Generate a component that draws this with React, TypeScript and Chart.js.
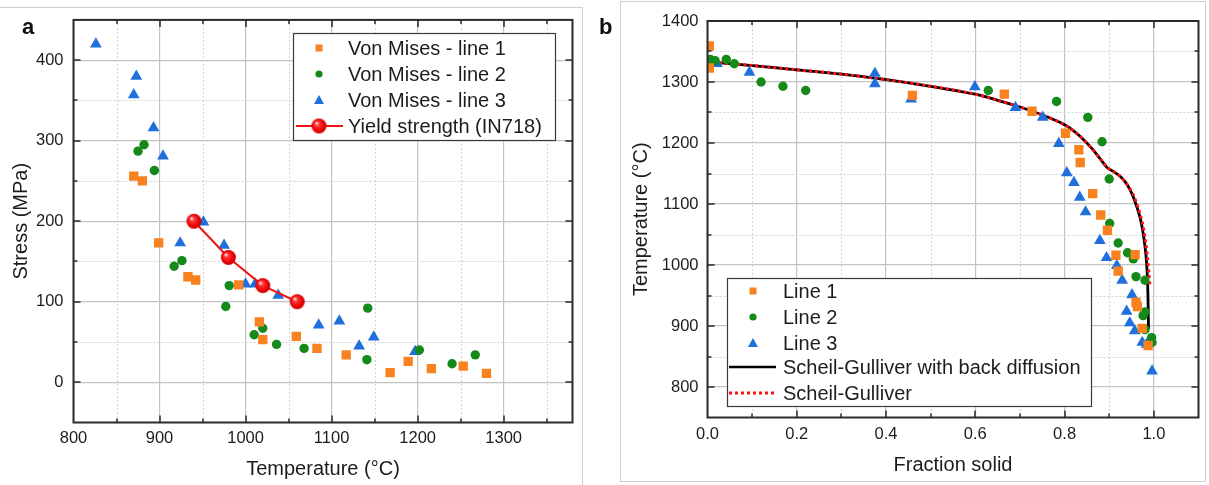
import { useEffect, useRef } from 'react';
import { Chart, registerables } from 'chart.js';

Chart.register(...registerables);

const FONT = '"Liberation Sans", Arial, Helvetica, sans-serif';
Chart.defaults.font.family = FONT;

// ---------- Panel a : stress vs temperature ----------
const aLine1Temp = [870, 880, 899, 933, 942, 992, 1016, 1020, 1059, 1083, 1117, 1168, 1189, 1216, 1253, 1280];
const aLine1Stress = [256, 250, 173, 131, 127, 121, 75, 53, 57, 42, 34, 12, 26, 17, 20, 11];

const aLine2Temp = [875, 882, 894, 917, 926, 977, 981, 1010, 1020, 1036, 1068, 1141, 1142, 1202, 1240, 1267];
const aLine2Stress = [287, 295, 263, 144, 151, 94, 120, 59, 67, 47, 42, 28, 92, 40, 23, 34];

const aLine3Temp = [826, 870, 873, 893, 904, 924, 951, 975, 1000, 1011, 1038, 1085, 1109, 1132, 1149, 1197];
const aLine3Stress = [420, 357, 380, 316, 281, 173, 199, 170, 122, 122, 108, 71, 76, 45, 56, 38];

const yieldTemp = [940, 980, 1020, 1060];
const yieldStress = [200, 155, 120, 100];

// ---------- Panel b : temperature vs fraction solid ----------
const bLine1Frac = [0.004, 0.004, 0.459, 0.665, 0.727, 0.802, 0.832, 0.835, 0.863, 0.881, 0.896, 0.915, 0.92, 0.958, 0.96, 0.963, 0.974, 0.987];
const bLine1Temp = [1359, 1323, 1278, 1280, 1252, 1216, 1189, 1168, 1117, 1082, 1057, 1016, 990, 1017, 939, 932, 896, 868];

const bLine2Frac = [0.006, 0.017, 0.042, 0.06, 0.12, 0.169, 0.22, 0.629, 0.782, 0.852, 0.884, 0.9, 0.901, 0.92, 0.941, 0.954, 0.96, 0.98, 0.98, 0.976, 0.98, 0.995, 0.996];
const bLine2Temp = [1337, 1335, 1337, 1330, 1300, 1293, 1286, 1286, 1268, 1242, 1202, 1141, 1068, 1036, 1020, 1010, 981, 975, 923, 917, 894, 881, 873];

const bLine3Frac = [0.021, 0.094, 0.375, 0.375, 0.456, 0.599, 0.69, 0.751, 0.787, 0.805, 0.821, 0.834, 0.847, 0.879, 0.894, 0.917, 0.929, 0.951, 0.939, 0.946, 0.957, 0.974, 0.984, 0.996];
const bLine3Temp = [1330, 1316, 1314, 1297, 1272, 1292, 1258, 1242, 1199, 1151, 1135, 1111, 1087, 1040, 1012, 999, 975, 951, 924, 905, 892, 873, 870, 826];

const scheilBackFrac = [0, 0.1, 0.2, 0.3, 0.4, 0.5, 0.6, 0.65, 0.7, 0.75, 0.8, 0.83, 0.86, 0.88, 0.895, 0.91, 0.925, 0.94, 0.952, 0.962, 0.97, 0.976, 0.981, 0.984, 0.986, 0.987, 0.988];
const scheilBackTemp = [1333, 1327, 1320, 1313, 1304, 1293, 1280, 1270, 1259, 1246, 1230, 1214, 1192, 1174, 1160, 1153, 1145, 1132, 1115, 1095, 1075, 1052, 1025, 1000, 970, 940, 895];

const scheilFrac = [0, 0.1, 0.2, 0.3, 0.4, 0.5, 0.6, 0.65, 0.7, 0.75, 0.8, 0.83, 0.86, 0.88, 0.895, 0.91, 0.925, 0.94, 0.954, 0.965, 0.974, 0.981, 0.986, 0.989, 0.991];
const scheilTemp = [1333, 1327, 1320, 1313, 1304, 1293, 1280, 1270, 1259, 1246, 1230, 1214, 1192, 1174, 1160, 1153, 1145, 1132, 1115, 1093, 1070, 1040, 1010, 985, 966];

const ORANGE = '#f7821f';
const GREEN = '#15891a';
const BLUE = '#1f70dc';
const RED = '#f01414';
const TEXT = '#1c1c1c';

const pts = (xs: number[], ys: number[]) => xs.map((x, i) => ({ x, y: ys[i] }));

function makeBall(r: number) {
  const c = document.createElement('canvas');
  const s = Math.ceil(r * 2 + 2);
  c.width = s;
  c.height = s;
  const g = c.getContext('2d')!;
  const cx = s / 2;
  const grad = g.createRadialGradient(cx - r * 0.35, cx - r * 0.4, r * 0.05, cx, cx, r);
  grad.addColorStop(0, '#ffe4e4');
  grad.addColorStop(0.3, '#ff3030');
  grad.addColorStop(0.8, '#e80000');
  grad.addColorStop(1, '#c00000');
  g.fillStyle = grad;
  g.beginPath();
  g.arc(cx, cx, r, 0, Math.PI * 2);
  g.fill();
  return c;
}

const isMult = (v: number, step: number) => Math.abs(v / step - Math.round(v / step)) < 1e-6;

function steps(min: number, max: number, step: number) {
  const out: number[] = [];
  const start = Math.ceil(min / step - 1e-9);
  const end = Math.floor(max / step + 1e-9);
  for (let i = start; i <= end; i++) out.push(Math.round(i * step * 1e6) / 1e6);
  return out;
}

function drawSymbol(ctx: CanvasRenderingContext2D, it: any, x: number, y: number, lx0: number, lx1: number) {
  ctx.save();
  if (it.type === 'rect') {
    ctx.fillStyle = it.color;
    ctx.fillRect(x - 3.5, y - 3.5, 7, 7);
  } else if (it.type === 'circle') {
    ctx.fillStyle = it.color;
    ctx.beginPath();
    ctx.arc(x, y, 3.6, 0, Math.PI * 2);
    ctx.fill();
  } else if (it.type === 'triangle') {
    ctx.fillStyle = it.color;
    ctx.beginPath();
    ctx.moveTo(x, y - 5);
    ctx.lineTo(x + 5, y + 4);
    ctx.lineTo(x - 5, y + 4);
    ctx.closePath();
    ctx.fill();
  } else if (it.type === 'lineBall') {
    ctx.strokeStyle = it.color;
    ctx.lineWidth = 2;
    ctx.beginPath();
    ctx.moveTo(lx0, y);
    ctx.lineTo(lx1, y);
    ctx.stroke();
    const b = it.ball as HTMLCanvasElement;
    ctx.drawImage(b, x - b.width / 2, y - b.height / 2);
  } else if (it.type === 'line') {
    ctx.strokeStyle = it.color;
    ctx.lineWidth = 2.5;
    ctx.beginPath();
    ctx.moveTo(lx0, y);
    ctx.lineTo(lx1, y);
    ctx.stroke();
  } else if (it.type === 'dotted') {
    ctx.strokeStyle = it.color;
    ctx.lineWidth = 3;
    ctx.setLineDash([3, 3]);
    ctx.beginPath();
    ctx.moveTo(lx0, y);
    ctx.lineTo(lx1, y);
    ctx.stroke();
  }
  ctx.restore();
}

const framePlugin = {
  id: 'frameTicks',
  beforeDatasetsDraw(chart: any, _args: any, opts: any) {
    const { ctx, chartArea: a, scales } = chart;
    const x = scales.x;
    const y = scales.y;
    ctx.save();
    ctx.strokeStyle = '#d2d2d2';
    ctx.lineWidth = 1;
    ctx.setLineDash([2, 2]);
    for (const v of steps(x.min, x.max, opts.xMinor)) {
      if (isMult(v, opts.xMajor) || v <= x.min + 1e-9 || v >= x.max - 1e-9) continue;
      const px = Math.round(x.getPixelForValue(v)) + 0.5;
      ctx.beginPath();
      ctx.moveTo(px, a.top);
      ctx.lineTo(px, a.bottom);
      ctx.stroke();
    }
    for (const v of steps(y.min, y.max, opts.yMinor)) {
      if (isMult(v, opts.yMajor) || v <= y.min + 1e-9 || v >= y.max - 1e-9) continue;
      const py = Math.round(y.getPixelForValue(v)) + 0.5;
      ctx.beginPath();
      ctx.moveTo(a.left, py);
      ctx.lineTo(a.right, py);
      ctx.stroke();
    }
    ctx.restore();
  },
  afterDatasetsDraw(chart: any, _args: any, opts: any) {
    const { ctx, chartArea: a, scales } = chart;
    const x = scales.x;
    const y = scales.y;
    ctx.save();
    ctx.strokeStyle = '#2a2a2a';
    ctx.lineWidth = 1.5;
    for (const v of steps(x.min, x.max, opts.xMinor)) {
      if (v <= x.min + 1e-9 || v >= x.max - 1e-9) continue;
      const len = isMult(v, opts.xMajor) ? 7 : 4;
      const px = Math.round(x.getPixelForValue(v));
      ctx.beginPath();
      ctx.moveTo(px, a.bottom);
      ctx.lineTo(px, a.bottom - len);
      ctx.moveTo(px, a.top);
      ctx.lineTo(px, a.top + len);
      ctx.stroke();
    }
    for (const v of steps(y.min, y.max, opts.yMinor)) {
      if (v <= y.min + 1e-9 || v >= y.max - 1e-9) continue;
      const len = isMult(v, opts.yMajor) ? 7 : 4;
      const py = Math.round(y.getPixelForValue(v));
      ctx.beginPath();
      ctx.moveTo(a.left, py);
      ctx.lineTo(a.left + len, py);
      ctx.moveTo(a.right, py);
      ctx.lineTo(a.right - len, py);
      ctx.stroke();
    }
    ctx.lineWidth = 2;
    ctx.strokeRect(a.left, a.top, a.right - a.left, a.bottom - a.top);
    ctx.restore();

    const lg = opts.legend;
    if (lg) {
      const [x0, y0, x1, y1] = lg.box;
      ctx.save();
      ctx.fillStyle = '#ffffff';
      ctx.fillRect(x0, y0, x1 - x0, y1 - y0);
      ctx.strokeStyle = '#3a3a3a';
      ctx.lineWidth = 1.2;
      ctx.strokeRect(x0 + 0.5, y0 + 0.5, x1 - x0, y1 - y0);
      ctx.font = `${lg.fontSize}px ${FONT}`;
      ctx.textBaseline = 'middle';
      ctx.textAlign = 'left';
      lg.items.forEach((it: any, i: number) => {
        const yy = lg.rows[i];
        drawSymbol(ctx, it, lg.symX, yy, lg.lineX0, lg.lineX1);
        ctx.fillStyle = TEXT;
        ctx.fillText(it.label, lg.textX, yy + 1);
      });
      ctx.restore();
    }
  },
};

function axisCfg(o: any) {
  return {
    type: 'linear',
    position: o.position,
    min: o.min,
    max: o.max,
    afterBuildTicks: (s: any) => {
      s.ticks = steps(o.min, o.max, o.step).map((v) => ({ value: v }));
    },
    afterFit: o.fit,
    ticks: {
      stepSize: o.step,
      color: TEXT,
      font: { size: 16.5 },
      padding: o.tickPad,
      autoSkip: false,
      maxRotation: 0,
      callback: o.fmt,
    },
    grid: { color: '#c3c3c3', lineWidth: 1.2, drawTicks: false },
    border: { display: false },
    title: {
      display: true,
      text: o.title,
      color: TEXT,
      font: { size: 20 },
      padding: o.titlePad,
    },
  };
}

function PanelChart(props: { width: number; height: number; left: number; config: (ball: HTMLCanvasElement) => any }) {
  const ref = useRef<HTMLCanvasElement>(null);
  useEffect(() => {
    const ball = makeBall(7.5);
    const chart = new Chart(ref.current!, props.config(ball));
    return () => chart.destroy();
  }, []);
  return (
    <canvas
      ref={ref}
      width={props.width}
      height={props.height}
      style={{ position: 'absolute', left: props.left, top: 0, width: props.width, height: props.height }}
    />
  );
}

const H = 485;

function configA(ball: HTMLCanvasElement): any {
  const W = 590;
  const plot = { left: 73.5, right: 572.5, top: 19.5, bottom: 422.5 };
  return {
    type: 'scatter',
    data: {
      datasets: [
        { label: 'Von Mises - line 1', data: pts(aLine1Temp, aLine1Stress), pointStyle: 'rect', pointRadius: 6.6, backgroundColor: ORANGE, borderColor: ORANGE, pointBorderWidth: 0, order: 2 },
        { label: 'Von Mises - line 2', data: pts(aLine2Temp, aLine2Stress), pointStyle: 'circle', pointRadius: 4.7, backgroundColor: GREEN, borderColor: GREEN, pointBorderWidth: 0, order: 2 },
        { label: 'Von Mises - line 3', data: pts(aLine3Temp, aLine3Stress), pointStyle: 'triangle', pointRadius: 6.8, backgroundColor: BLUE, borderColor: BLUE, pointBorderWidth: 0, order: 2 },
        { label: 'Yield strength (IN718)', data: pts(yieldTemp, yieldStress), showLine: true, borderColor: RED, borderWidth: 2, pointStyle: ball, pointRadius: 8, order: 1 },
      ],
    },
    options: {
      responsive: false,
      animation: false,
      layout: { padding: { left: 0, top: plot.top, right: W - plot.right, bottom: 0 } },
      plugins: {
        legend: { display: false },
        tooltip: { enabled: false },
        frameTicks: {
          xMajor: 100, xMinor: 50, yMajor: 100, yMinor: 50,
          legend: {
            box: [293, 33, 555, 140],
            rows: [48, 74, 100, 126],
            symX: 319, lineX0: 296, lineX1: 343, textX: 348, fontSize: 20,
            items: [
              { label: 'Von Mises - line 1', type: 'rect', color: ORANGE },
              { label: 'Von Mises - line 2', type: 'circle', color: GREEN },
              { label: 'Von Mises - line 3', type: 'triangle', color: BLUE },
              { label: 'Yield strength (IN718)', type: 'lineBall', color: RED, ball },
            ],
          },
        },
      },
      scales: {
        x: axisCfg({
          position: 'bottom', min: 800, max: 1380, step: 100, title: 'Temperature (°C)',
          tickPad: 6, titlePad: { top: 0, bottom: 4 }, fmt: (v: number) => String(v),
          fit: (s: any) => { s.height = H - plot.bottom; },
        }),
        y: axisCfg({
          position: 'left', min: -50, max: 450, step: 100, title: 'Stress (MPa)',
          tickPad: 10, titlePad: { top: 9.5, bottom: 0 }, fmt: (v: number) => String(v),
          fit: (s: any) => { s.width = plot.left; },
        }),
      },
    },
    plugins: [framePlugin],
  };
}

function configB(ball: HTMLCanvasElement): any {
  const W = 609;
  const plot = { left: 107.5, right: 598.5, top: 21, bottom: 417.5 };
  return {
    type: 'scatter',
    data: {
      datasets: [
        { label: 'Line 1', data: pts(bLine1Frac, bLine1Temp), pointStyle: 'rect', pointRadius: 6.6, backgroundColor: ORANGE, borderColor: ORANGE, pointBorderWidth: 0, order: 1 },
        { label: 'Line 2', data: pts(bLine2Frac, bLine2Temp), pointStyle: 'circle', pointRadius: 4.7, backgroundColor: GREEN, borderColor: GREEN, pointBorderWidth: 0, order: 1 },
        { label: 'Line 3', data: pts(bLine3Frac, bLine3Temp), pointStyle: 'triangle', pointRadius: 6.8, backgroundColor: BLUE, borderColor: BLUE, pointBorderWidth: 0, order: 1 },
        { label: 'Scheil-Gulliver with back diffusion', data: pts(scheilBackFrac, scheilBackTemp), showLine: true, borderColor: '#000000', borderWidth: 2.8, pointRadius: 0, tension: 0.3, order: 3 },
        { label: 'Scheil-Gulliver', data: pts(scheilFrac, scheilTemp), showLine: true, borderColor: '#ff1010', borderWidth: 3, borderDash: [3, 3], borderCapStyle: 'butt', pointRadius: 0, tension: 0.3, order: 2 },
      ],
    },
    options: {
      responsive: false,
      animation: false,
      layout: { padding: { left: 0, top: plot.top, right: W - plot.right, bottom: 0 } },
      plugins: {
        legend: { display: false },
        tooltip: { enabled: false },
        frameTicks: {
          xMajor: 0.2, xMinor: 0.1, yMajor: 100, yMinor: 50,
          legend: {
            box: [127, 278, 491, 406],
            rows: [291, 317, 343, 367, 393],
            symX: 153, lineX0: 129, lineX1: 176, textX: 183, fontSize: 20,
            items: [
              { label: 'Line 1', type: 'rect', color: ORANGE },
              { label: 'Line 2', type: 'circle', color: GREEN },
              { label: 'Line 3', type: 'triangle', color: BLUE },
              { label: 'Scheil-Gulliver with back diffusion', type: 'line', color: '#000000' },
              { label: 'Scheil-Gulliver', type: 'dotted', color: '#ff1010' },
            ],
          },
        },
      },
      scales: {
        x: axisCfg({
          position: 'bottom', min: 0, max: 1.1, step: 0.2, title: 'Fraction solid',
          tickPad: 7, titlePad: { top: 0, bottom: 8 }, fmt: (v: number) => v.toFixed(1),
          fit: (s: any) => { s.height = H - plot.bottom; },
        }),
        y: axisCfg({
          position: 'left', min: 750, max: 1400, step: 100, title: 'Temperature (°C)',
          tickPad: 9, titlePad: { top: 29, bottom: 0 }, fmt: (v: number) => String(v),
          fit: (s: any) => { s.width = plot.left; },
        }),
      },
    },
    plugins: [framePlugin],
  };
}

const labelStyle: any = {
  position: 'absolute',
  fontFamily: FONT,
  fontWeight: 'bold',
  fontSize: 22,
  lineHeight: '22px',
  color: '#111',
};

export default function App() {
  return (
    <div style={{ position: 'absolute', left: 0, top: 0, width: 1209, height: H, background: '#fff', overflow: 'hidden' }}>
      <div style={{ position: 'absolute', left: -1, top: 7, width: 584, height: 490, border: '1px solid #cfcfcf', boxSizing: 'border-box' }} />
      <div style={{ position: 'absolute', left: 620, top: 1, width: 586, height: 481, border: '1px solid #cfcfcf', boxSizing: 'border-box' }} />
      <PanelChart width={590} height={H} left={0} config={configA} />
      <PanelChart width={609} height={H} left={600} config={configB} />
      <div style={{ ...labelStyle, left: 22, top: 16 }}>a</div>
      <div style={{ ...labelStyle, left: 599, top: 16 }}>b</div>
    </div>
  );
}
